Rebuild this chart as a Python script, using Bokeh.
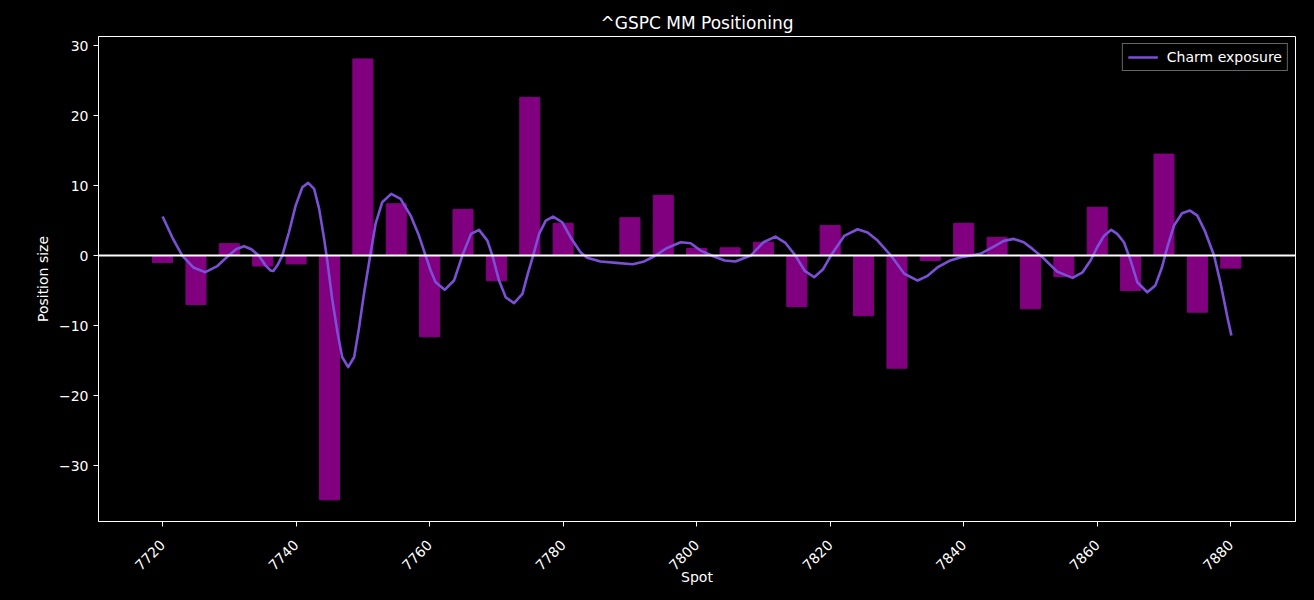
import math
from bokeh.plotting import figure
from bokeh.models import Range1d, FixedTicker, Span
from bokeh.embed import file_html
from bokeh.resources import INLINE

# Bar data (spot strikes and MM position size)
spots = [7720, 7725, 7730, 7735, 7740, 7745, 7750, 7755, 7760, 7765, 7770, 7775,
         7780, 7785, 7790, 7795, 7800, 7805, 7810, 7815, 7820, 7825, 7830, 7835,
         7840, 7845, 7850, 7855, 7860, 7865, 7870, 7875, 7880]
positions = [-1.0, -7.0, 1.7, -1.5, -1.2, -34.9, 28.1, 7.4, -11.6, 6.6, -3.6, 22.6,
             4.6, 0.0, 5.4, 8.6, 1.0, 1.1, 1.9, -7.3, 4.3, -8.6, -16.1, -0.7,
             4.6, 2.6, -7.6, -3.0, 6.9, -5.0, 14.5, -8.1, -1.8]

# Charm exposure curve
charm_x = [7720.0, 7721.5, 7722.95, 7724.6, 7726.4, 7728.2, 7729.9, 7731.0, 7732.2, 7733.3,
           7734.4, 7735.4, 7736.18, 7736.6, 7737.2, 7737.93, 7738.93, 7739.93, 7740.93, 7741.8, 7742.7,
           7743.45, 7744.2, 7744.7, 7745.4, 7746.2, 7746.9, 7747.8, 7748.7, 7749.4, 7750.2,
           7751.1, 7751.9, 7752.9, 7754.25, 7755.65, 7757.15, 7758.4, 7759.4, 7760.15, 7760.9,
           7762.25, 7763.65, 7764.9, 7766.2, 7767.4, 7768.65, 7769.4, 7770.4, 7771.4, 7772.65,
           7773.9, 7774.7, 7775.5, 7776.4, 7777.4, 7778.5, 7779.85, 7781.1, 7782.6, 7783.6,
           7785.6, 7788.0, 7790.4, 7792.0, 7793.6, 7795.4, 7797.6, 7799.1, 7800.6, 7802.6,
           7804.2, 7805.8, 7808.1, 7810.0, 7811.8, 7813.3, 7814.8, 7816.2, 7817.6, 7818.9,
           7820.1, 7822.1, 7824.1, 7825.6, 7827.1, 7829.1, 7831.1, 7833.1, 7834.6, 7836.1,
           7838.0, 7839.6, 7842.5, 7844.5, 7846.0, 7847.5, 7849.0, 7850.3, 7851.8, 7854.0,
           7856.3, 7857.8, 7859.0, 7860.0, 7861.0, 7862.1, 7863.0, 7864.0, 7865.0, 7866.0,
           7867.5, 7868.7, 7869.7, 7870.5, 7871.5, 7872.7, 7873.9, 7875.0, 7876.1, 7877.5,
           7878.5, 7879.5, 7880.1]
charm_y = [5.57, 2.5, 0.0, -1.7, -2.38, -1.5, 0.0, 0.9, 1.33, 0.9,
           0.0, -1.4, -2.14, -2.2, -1.4, 0.0, 3.33, 7.14, 9.76, 10.38, 9.52,
           6.67, 2.38, -0.95, -6.19, -10.95, -14.5, -15.95, -14.5, -10.48, -5.24,
           0.0, 4.52, 7.62, 8.81, 8.1, 5.71, 2.86, 0.0, -2.14, -3.81,
           -4.9, -3.57, 0.0, 3.1, 3.67, 2.14, 0.0, -3.57, -5.95, -6.81,
           -5.48, -2.62, 0.0, 3.1, 5.0, 5.57, 4.76, 2.62, 0.48, -0.33,
           -0.86, -1.05, -1.24, -0.9, -0.14, 1.0, 1.9, 1.76, 0.71, -0.14,
           -0.7, -0.86, 0.0, 1.9, 2.71, 1.8, 0.0, -2.2, -3.1, -2.0,
           0.0, 2.8, 3.76, 3.3, 2.14, 0.0, -2.6, -3.57, -2.9, -1.67,
           -0.7, -0.24, 0.24, 1.29, 2.1, 2.38, 1.9, 0.95, -0.24, -2.3,
           -3.19, -2.4, -0.71, 1.19, 2.8, 3.67, 3.1, 1.9, -0.7, -3.81,
           -5.24, -4.29, -1.67, 1.19, 4.29, 6.05, 6.43, 5.71, 3.57, 0.0,
           -4.05, -8.81, -11.43]

x_ticks = [7720, 7740, 7760, 7780, 7800, 7820, 7840, 7860, 7880]
y_ticks = [-30, -20, -10, 0, 10, 20, 30]

FONT = "DejaVu Sans"

p = figure(output_backend="svg", toolbar_location=None,
           frame_width=1197, frame_height=485,
           min_border_left=98, min_border_right=19, min_border_top=36, min_border_bottom=79,
           x_range=Range1d(7710.4, 7889.7), y_range=Range1d(-38.0, 31.3),
           background_fill_color="black", border_fill_color="black",
           title="^GSPC MM Positioning")

p.title.text_color = "white"
p.title.text_font = FONT
p.title.text_font_size = "17px"
p.title.text_font_style = "normal"
p.title.align = "center"
p.title.standoff = 7

p.vbar(x=spots, top=positions, bottom=0, width=3.0, color="#800080")
p.add_layout(Span(location=0, dimension="width", line_color="white", line_width=2))
p.line(charm_x, charm_y, line_color="#7b4fd6", line_width=2.6, line_join="round",
       legend_label="Charm exposure")

p.xgrid.visible = False
p.ygrid.visible = False
p.outline_line_color = "white"
p.outline_line_width = 1

for ax in (p.xaxis[0], p.yaxis[0]):
    ax.axis_line_color = "white"
    ax.major_tick_line_color = "white"
    ax.minor_tick_line_color = None
    ax.major_tick_out = 5
    ax.major_tick_in = 0
    ax.major_label_text_color = "white"
    ax.major_label_text_font = FONT
    ax.major_label_text_font_size = "14px"
    ax.axis_label_text_color = "white"
    ax.axis_label_text_font = FONT
    ax.axis_label_text_font_size = "14px"
    ax.axis_label_text_font_style = "normal"

p.xaxis.ticker = FixedTicker(ticks=x_ticks)
p.yaxis.ticker = FixedTicker(ticks=y_ticks)
p.yaxis.major_label_overrides = {v: (("\u2212" + str(-v)) if v < 0 else str(v)) for v in y_ticks}
p.xaxis.major_label_orientation = math.pi / 4
p.xaxis.major_label_standoff = 16
p.xaxis.axis_label_standoff = -9
p.xaxis.axis_label = "Spot"
p.yaxis.axis_label = "Position size"

p.legend.location = "top_right"
p.legend.background_fill_color = "black"
p.legend.background_fill_alpha = 1.0
p.legend.border_line_color = "#cccccc"
p.legend.border_line_width = 1
p.legend.label_text_color = "white"
p.legend.label_text_font = FONT
p.legend.label_text_font_size = "14px"
p.legend.glyph_width = 30
p.legend.glyph_height = 16
p.legend.label_standoff = 9
p.legend.padding = 5
p.legend.spacing = 0
p.legend.margin = 7

html = file_html(p, INLINE).replace("<body>", '<body style="background-color:#000000">')
open("out.html", "w").write(html)
